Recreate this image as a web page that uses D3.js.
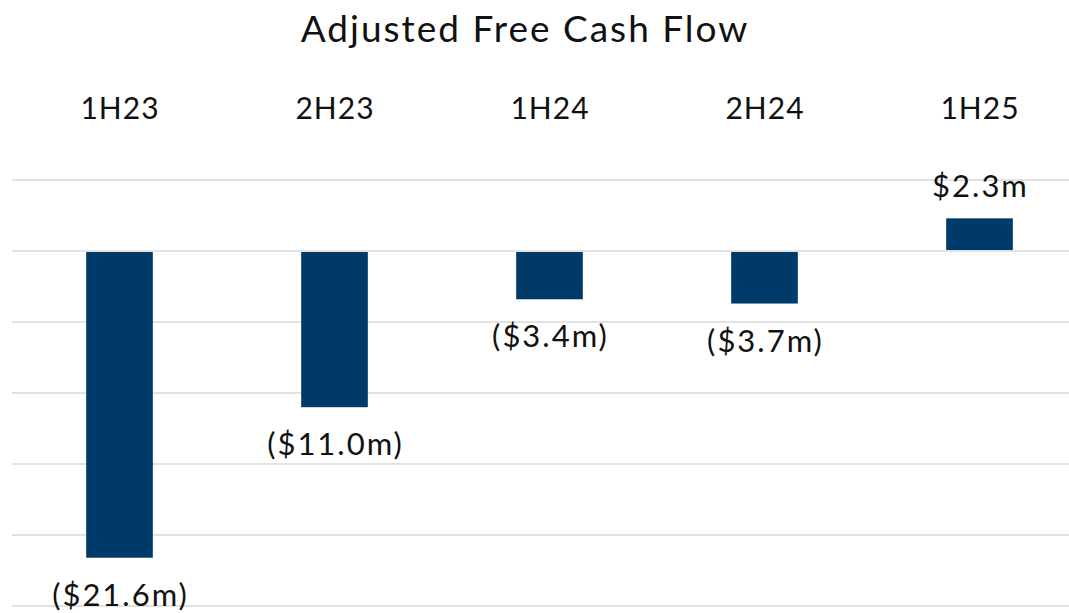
<!DOCTYPE html>
<html>
<head>
<meta charset="utf-8">
<script src="https://cdn.jsdelivr.net/npm/d3@7"></script>
<style>
  html, body { margin: 0; padding: 0; background: #fff; }
  svg { display: block; font-family: Lato, "Open Sans", sans-serif; }
</style>
</head>
<body>
<div id="chart"></div>
<script>
// Adjusted free cash flow, $m
const periods = ["1H23", "2H23", "1H24", "2H24", "1H25"];
const values = [-21.6, -11.0, -3.4, -3.7, 2.3];
const valueLabels = ["($21.6m)", "($11.0m)", "($3.4m)", "($3.7m)", "$2.3m"];
const gridTicks = [5, 0, -5, -10, -15, -20, -25];

const width = 1069, height = 613;
const m = { top: 180, right: -18, bottom: 7, left: 12 };

const svg = d3.select("#chart").append("svg")
  .attr("width", width)
  .attr("height", height)
  .attr("viewBox", [0, 0, width, height]);

const x = d3.scaleBand()
  .domain(periods)
  .range([m.left, width - m.right])
  .paddingInner(0.69)
  .paddingOuter(0.345);

const y = d3.scaleLinear()
  .domain([-25, 5])
  .range([height - m.bottom, m.top]);

// gridlines
svg.append("g")
  .selectAll("line")
  .data(gridTicks)
  .join("line")
  .attr("x1", m.left)
  .attr("x2", width)
  .attr("y1", d => y(d))
  .attr("y2", d => y(d))
  .attr("stroke", "#d9d9d9")
  .attr("stroke-width", 1.6);

// bars
svg.append("g")
  .selectAll("rect")
  .data(values)
  .join("rect")
  .attr("x", (d, i) => x(periods[i]))
  .attr("width", x.bandwidth())
  .attr("y", d => d >= 0 ? y(d) : y(0) + 1)
  .attr("height", d => Math.abs(y(d) - y(0)) - 1)
  .attr("fill", "#003a68");

// value labels
svg.append("g")
  .selectAll("text")
  .data(values)
  .join("text")
  .attr("x", (d, i) => x(periods[i]) + x.bandwidth() / 2 + 1)
  .attr("y", d => d >= 0 ? y(d) - 21 : y(d) + 48)
  .attr("text-anchor", "middle")
  .attr("font-size", 31)
  .attr("letter-spacing", 2)
  .attr("fill", "#111")
  .text((d, i) => valueLabels[i]);

// category labels across the top
svg.append("g")
  .selectAll("text")
  .data(periods)
  .join("text")
  .attr("x", d => x(d) + x.bandwidth() / 2 + 0.5)
  .attr("y", 119)
  .attr("text-anchor", "middle")
  .attr("font-size", 30)
  .attr("letter-spacing", 1)
  .attr("fill", "#111")
  .text(d => d);

// title
svg.append("text")
  .attr("x", 525)
  .attr("y", 42)
  .attr("text-anchor", "middle")
  .attr("font-size", 37)
  .attr("letter-spacing", 2)
  .attr("fill", "#111")
  .text("Adjusted Free Cash Flow");
</script>
</body>
</html>
